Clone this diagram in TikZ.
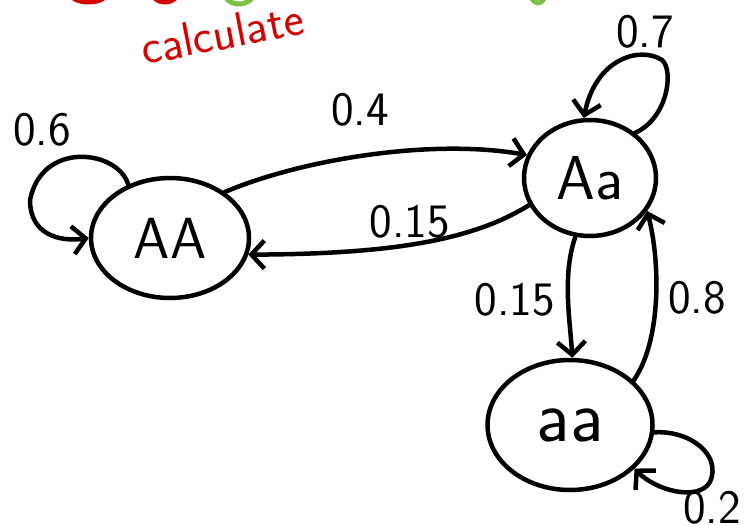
\documentclass[tikz,border=0pt]{standalone}
\usepackage{fontspec}
\usetikzlibrary{shapes.geometric,arrows.meta}
\definecolor{penred}{HTML}{D40000}
\definecolor{pengreen}{HTML}{7DC242}
\begin{document}
\begin{tikzpicture}[x=1pt,y=-1pt, line cap=round, line join=round,
  state/.style={draw, ellipse, line width=4.5pt, inner sep=0pt,
    font=\sffamily\fontsize{58}{60}\selectfont},
  trans/.style={line width=4.5pt,
    -{Straight Barb[length=13pt,width=28pt,line width=4.5pt]}},
  lbl/.style={font=\sffamily\fontsize{48}{50}\selectfont, inner sep=0pt},
  scribble/.style={line width=5pt}]
\useasboundingbox (0,0) rectangle (754,525);
% cut-off coloured strokes at the top edge
\begin{scope}
\clip (0,0) rectangle (754,525);
\draw[scribble, penred] (88.5,-8) ellipse [x radius=19pt, y radius=10pt];
\draw[scribble, penred] (165,-8) ellipse [x radius=13pt, y radius=10pt];
\draw[scribble, pengreen] (239,-10) ellipse [x radius=16pt, y radius=14pt];
\draw[scribble, pengreen] (538,-10) ellipse [x radius=8pt, y radius=13pt];
\end{scope}
\node[font=\sffamily\fontsize{48}{50}\selectfont, text=penred, rotate=11, inner sep=0pt] (calc) at (222,33) {calculate};

% states
\node[state, minimum width=158pt, minimum height=120pt] (AA) at (170,238) {AA};
\node[state, minimum width=132pt, minimum height=116pt, font=\sffamily\fontsize{62}{64}\selectfont] (Aa) at (590,178) {Aa};
\node[state, minimum width=165pt, minimum height=130pt, font=\sffamily\fontsize{74}{76}\selectfont] (aa) at (570,425) {aa};

% transitions between states
\draw[trans] (AA.40) .. controls (300,160) and (430,138) .. (Aa.160);
\draw[trans] (Aa.204) .. controls (470,242) and (385,254) .. (AA.-12);
\draw[trans] (Aa.256) .. controls (562,275) and (570,320) .. (aa.88);
\draw[trans] (aa.35) .. controls (662,340) and (660,260) .. (Aa.-30);

% self loops
\draw[trans] (AA.128) .. controls (118,150) and (42,140) .. (30,200)
  .. controls (30,235) and (60,242) .. (AA.180);
\draw[trans] (Aa.45) .. controls (668,118) and (674,70) .. (662,60)
  .. controls (640,46) and (596,58) .. (Aa.96);
\draw[trans] (aa.-5) .. controls (690,430) and (722,455) .. (710,482)
  .. controls (698,502) and (655,490) .. (aa.-34);

% labels
\node[lbl] (p06) at (42,130) {0.6};
\node[lbl] (p04) at (360,110) {0.4};
\node[lbl] (p015a) at (410,222) {0.15};
\node[lbl] (p07) at (645,32) {0.7};
\node[lbl] (p015b) at (515,300) {0.15};
\node[lbl] (p08) at (697,298) {0.8};
\node[lbl] (p02) at (712,508) {0.2};
\end{tikzpicture}
\end{document}
